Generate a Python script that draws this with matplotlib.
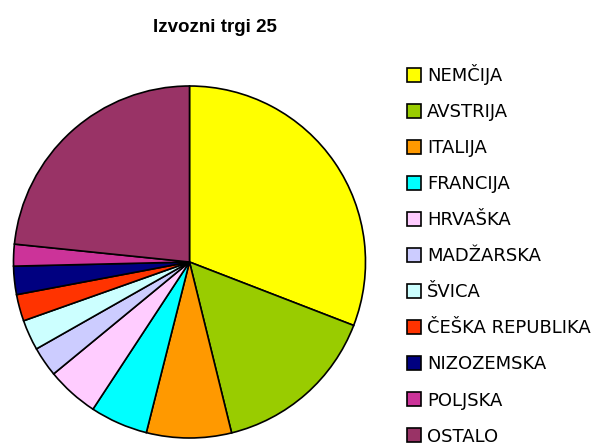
import matplotlib
matplotlib.use("Agg")
import matplotlib.pyplot as plt
from matplotlib.lines import Line2D

countries = ['NEMČIJA', 'AVSTRIJA', 'ITALIJA', 'FRANCIJA', 'HRVAŠKA', 'MADŽARSKA',
             'ŠVICA', 'ČEŠKA REPUBLIKA', 'NIZOZEMSKA', 'POLJSKA', 'OSTALO']
shares = [30.9, 15.3, 7.8, 5.3, 4.8, 2.75, 2.8, 2.45, 2.6, 2.0, 23.4]
colors = ['#FFFF00', '#99CC00', '#FF9900', '#00FFFF', '#FFCCFF', '#CCCCFF',
          '#CCFFFF', '#FF3300', '#000080', '#CC3399', '#993366']

fig = plt.figure(figsize=(6.1, 4.45), dpi=100)
ax = fig.add_axes([13.5 / 610, 7 / 445, 352 / 610, 352 / 445])
ax.pie(shares, colors=colors, startangle=90, counterclock=False,
       wedgeprops=dict(edgecolor='black', linewidth=1.2))
ax.set_xlim(-1.0, 1.0)
ax.set_ylim(-1.0, 1.0)
ax.set_aspect('equal')

fig.text(215 / 610, 1 - 28 / 445, 'Izvozni trgi 25', ha='center', va='center',
         fontsize=13.5, fontweight='bold', family='Liberation Sans')

handles = [Line2D([], [], marker='s', linestyle='', markersize=10,
                  markerfacecolor=c, markeredgecolor='black', markeredgewidth=1.2)
           for c in colors]
fig.legend(handles, countries, loc='upper left', bbox_to_anchor=(398 / 610, 1 - 55 / 445),
           frameon=False, prop=dict(family='DejaVu Sans', size=13),
           handlelength=0.8, handletextpad=0.3, labelspacing=1.0, borderpad=0)

fig.savefig('out.png', dpi=100)
